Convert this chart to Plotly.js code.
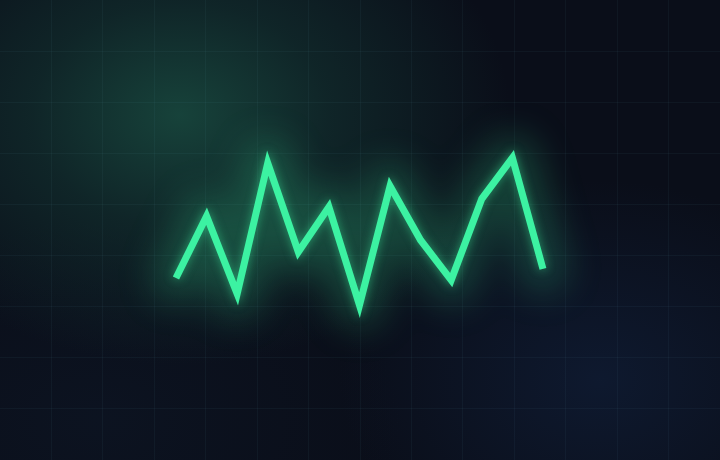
<!DOCTYPE html>
<html>
<head>
<meta charset="utf-8">
<script src="https://cdn.plot.ly/plotly-3.0.1.min.js"></script>
<style>
  html, body { margin: 0; padding: 0; width: 720px; height: 460px; overflow: hidden; }
  body {
    background-color: #0a0e19;
    background-image:
      radial-gradient(ellipse 330px 250px at 180px 115px, rgba(24,72,62,0.9) 0%, rgba(20,56,52,0.55) 45%, rgba(10,14,25,0) 100%),
      radial-gradient(ellipse 260px 200px at 600px 380px, rgba(16,30,56,0.7) 0%, rgba(10,14,25,0) 100%),
      radial-gradient(ellipse 300px 200px at 100px 420px, rgba(14,24,40,0.5) 0%, rgba(10,14,25,0) 100%);
  }
  #chart { width: 720px; height: 460px; }
  #chart .scatterlayer .trace.main .js-line {
    stroke-linejoin: miter !important;
    stroke-miterlimit: 20 !important;
    stroke-linecap: butt !important;
    filter: drop-shadow(0 0 5px rgba(60,242,160,0.5));
  }
  #chart .scatterlayer .trace.glow .js-line {
    stroke-linejoin: round !important;
    stroke-linecap: round !important;
    filter: blur(18px);
  }
</style>
</head>
<body>
<div id="chart"></div>
<script>
// Data
const points = [1, 2, 3, 4, 5, 6, 7, 8, 9, 10, 11, 12, 13];
const values = [35.6, 47.7, 32.5, 58.1, 40.7, 49.5, 30.3, 53.6, 43.0, 35.2, 51.1, 59.1, 37.4];

const lineColor = '#3cf2a2';

const glow = {
  x: points, y: values, type: 'scatter', mode: 'lines',
  line: { color: 'rgba(60,242,160,0.22)', width: 46 },
  hoverinfo: 'skip', showlegend: false
};
const main = {
  x: points, y: values, type: 'scatter', mode: 'lines',
  line: { color: lineColor, width: 7 },
  hoverinfo: 'skip', showlegend: false
};

// axis: 14 columns x 9 rows grid over the whole canvas
const xStep = 30.58;           // px per point
const xFirst = 176;            // px of first point
const cols = 14, rows = 9;
const W = 720, H = 460;
const x0 = points[0] - xFirst / xStep;
const x1 = points[0] + (W - xFirst) / xStep;
const xGrid = (W / cols) / xStep;

const layout = {
  width: W, height: H,
  margin: { l: 0, r: 0, t: 0, b: 0, pad: 0 },
  paper_bgcolor: 'rgba(0,0,0,0)',
  plot_bgcolor: 'rgba(0,0,0,0)',
  showlegend: false,
  xaxis: {
    range: [x0, x1], tick0: x0, dtick: xGrid, tickmode: 'linear',
    showgrid: true, gridcolor: 'rgba(120,190,210,0.05)', gridwidth: 1,
    zeroline: false, showline: false, showticklabels: false, ticks: '', fixedrange: true
  },
  yaxis: {
    range: [0, 90], tick0: 0, dtick: 10, tickmode: 'linear',
    showgrid: true, gridcolor: 'rgba(120,190,210,0.05)', gridwidth: 1,
    zeroline: false, showline: false, showticklabels: false, ticks: '', fixedrange: true
  }
};

Plotly.newPlot('chart', [glow, main], layout, { staticPlot: true, displayModeBar: false }).then(() => {
  const traces = document.querySelectorAll('#chart .scatterlayer .trace');
  if (traces[0]) traces[0].classList.add('glow');
  if (traces[1]) traces[1].classList.add('main');
});
</script>
</body>
</html>
